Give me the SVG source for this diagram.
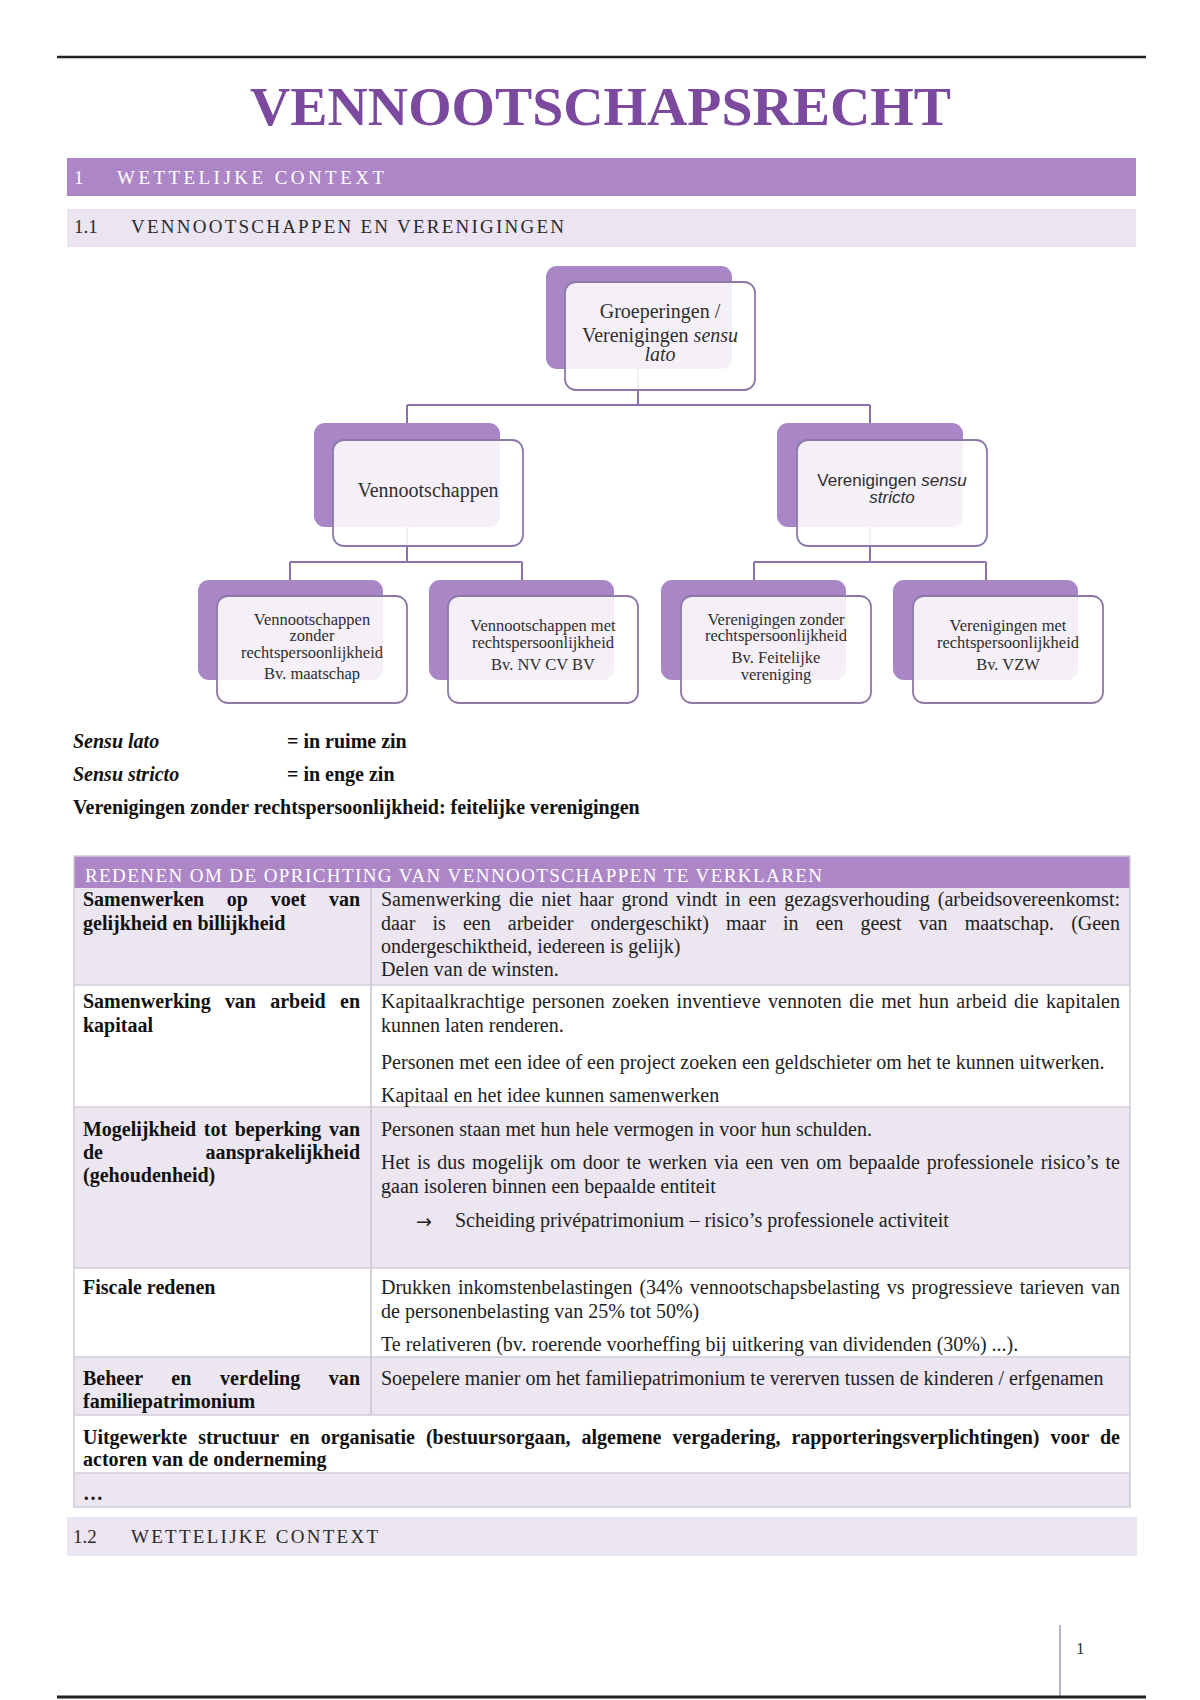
<svg xmlns="http://www.w3.org/2000/svg" width="1200" height="1700" viewBox="0 0 1200 1700">
<style>
.body{font-family:"Liberation Serif","Times New Roman",serif;font-size:20px;fill:#222}
.bold{font-weight:bold;fill:#111}
.back{fill:#A986C5}
.front{fill:#ffffff;fill-opacity:0.88;stroke:#8C79A8;stroke-width:1.8}
.nt{font-family:"Liberation Serif","Times New Roman",serif;font-size:20px;fill:#2e2e2e;text-anchor:middle}
.n3{font-size:16.5px}
.ns{font-family:"Liberation Sans",Arial,sans-serif;font-size:17px;fill:#2e2e2e;text-anchor:middle}
.conn{fill:none;stroke:#8C72AA;stroke-width:2}
.h1t{font-family:"Liberation Serif","Times New Roman",serif;font-size:19px;fill:#ffffff}
.h2t{font-family:"Liberation Serif","Times New Roman",serif;font-size:19px;fill:#2a2a2a}
.sep{stroke:#D3CDD9;stroke-width:1.5}
.lav{fill:#ECE6F1}
</style>
<rect x="0" y="0" width="1200" height="1700" fill="#ffffff"/>

<g id="page-header">
<line x1="57" y1="57" x2="1146" y2="57" stroke="#222" stroke-width="2.5"/>
<text x="250" y="125" font-family="Liberation Serif, Times New Roman, serif" font-size="55" font-weight="bold" fill="#7B4A9F" textLength="701" lengthAdjust="spacingAndGlyphs">VENNOOTSCHAPSRECHT</text>
</g>

<g id="heading-1">
<rect x="67" y="158" width="1069" height="38" fill="#AC86C6"/>
<text class="h1t" x="74" y="184">1</text>
<text class="h1t" x="117" y="184" textLength="267" lengthAdjust="spacing">WETTELIJKE CONTEXT</text>
</g>

<g id="heading-1-1">
<rect x="67" y="209" width="1069" height="38" fill="#EAE5F0"/>
<text class="h2t" x="74" y="233">1.1</text>
<text class="h2t" x="131" y="233" textLength="433" lengthAdjust="spacing">VENNOOTSCHAPPEN EN VERENIGINGEN</text>
</g>

<g id="connectors">
<path class="conn" d="M638 368 V405 M407 405 H870 M407 405 V423 M870 405 V423"/>
<path class="conn" d="M407 527 V562 M290 562 H522 M290 562 V580 M522 562 V580"/>
<path class="conn" d="M870 527 V562 M754 562 H986 M754 562 V580 M986 562 V580"/>
</g>

<g id="node-groeperingen">
<rect class="back" x="546" y="266" width="186" height="103" rx="11"/>
<rect class="front" x="565" y="282" width="190" height="108" rx="11"/>
<text class="nt" x="660" y="318">Groeperingen /</text>
<text class="nt" x="660" y="342">Verenigingen <tspan font-style="italic">sensu</tspan></text>
<text class="nt" x="660" y="361" font-style="italic">lato</text>
</g>

<g id="node-vennootschappen">
<rect class="back" x="314" y="423" width="186" height="104" rx="11"/>
<rect class="front" x="333" y="440" width="190" height="106" rx="11"/>
<text class="nt" x="428" y="497">Vennootschappen</text>
</g>

<g id="node-verenigingen-stricto">
<rect class="back" x="777" y="423" width="186" height="104" rx="11"/>
<rect class="front" x="797" y="440" width="190" height="106" rx="11"/>
<text class="ns" x="892" y="486">Verenigingen <tspan font-style="italic">sensu</tspan></text>
<text class="ns" x="892" y="503" font-style="italic">stricto</text>
</g>

<g id="node-vzonder">
<rect class="back" x="198" y="580" width="185" height="100" rx="11"/>
<rect class="front" x="217" y="596" width="190" height="107" rx="11"/>
<text class="nt n3" x="312" y="625">Vennootschappen</text>
<text class="nt n3" x="312" y="641">zonder</text>
<text class="nt n3" x="312" y="658">rechtspersoonlijkheid</text>
<text class="nt n3" x="312" y="679">Bv. maatschap</text>
</g>

<g id="node-vmet">
<rect class="back" x="429" y="580" width="185" height="100" rx="11"/>
<rect class="front" x="448" y="596" width="190" height="107" rx="11"/>
<text class="nt n3" x="543" y="631">Vennootschappen met</text>
<text class="nt n3" x="543" y="648">rechtspersoonlijkheid</text>
<text class="nt n3" x="543" y="670">Bv. NV CV BV</text>
</g>

<g id="node-verzonder">
<rect class="back" x="661" y="580" width="185" height="100" rx="11"/>
<rect class="front" x="681" y="596" width="190" height="107" rx="11"/>
<text class="nt n3" x="776" y="625">Verenigingen zonder</text>
<text class="nt n3" x="776" y="641">rechtspersoonlijkheid</text>
<text class="nt n3" x="776" y="663">Bv. Feitelijke</text>
<text class="nt n3" x="776" y="680">vereniging</text>
</g>

<g id="node-vermet">
<rect class="back" x="893" y="580" width="185" height="100" rx="11"/>
<rect class="front" x="913" y="596" width="190" height="107" rx="11"/>
<text class="nt n3" x="1008" y="631">Verenigingen met</text>
<text class="nt n3" x="1008" y="648">rechtspersoonlijkheid</text>
<text class="nt n3" x="1008" y="670">Bv. VZW</text>
</g>

<g id="notes" class="body">
<text class="body bold" x="73" y="748" font-style="italic">Sensu lato</text>
<text class="body bold" x="287" y="748">= in ruime zin</text>
<text class="body bold" x="73" y="781" font-style="italic">Sensu stricto</text>
<text class="body bold" x="287" y="781">= in enge zin</text>
<text class="body bold" x="73" y="814">Verenigingen zonder rechtspersoonlijkheid: feitelijke verenigingen</text>
</g>

<g id="table">
<rect x="74" y="856" width="1056" height="32" fill="#AC86C6"/>
<text x="85" y="882" font-family="Liberation Serif, Times New Roman, serif" font-size="19" fill="#ffffff" textLength="737" lengthAdjust="spacing">REDENEN OM DE OPRICHTING VAN VENNOOTSCHAPPEN TE VERKLAREN</text>
<rect class="lav" x="74" y="888" width="1056" height="97"/>
<rect x="74" y="985" width="1056" height="122" fill="#ffffff"/>
<rect class="lav" x="74" y="1107" width="1056" height="161"/>
<rect x="74" y="1268" width="1056" height="89" fill="#ffffff"/>
<rect class="lav" x="74" y="1357" width="1056" height="58"/>
<rect x="74" y="1415" width="1056" height="58" fill="#ffffff"/>
<rect class="lav" x="74" y="1473" width="1056" height="34"/>
<line class="sep" x1="74" y1="985" x2="1130" y2="985"/>
<line class="sep" x1="74" y1="1107" x2="1130" y2="1107"/>
<line class="sep" x1="74" y1="1268" x2="1130" y2="1268"/>
<line class="sep" x1="74" y1="1357" x2="1130" y2="1357"/>
<line class="sep" x1="74" y1="1415" x2="1130" y2="1415"/>
<line class="sep" x1="74" y1="1473" x2="1130" y2="1473"/>
<line x1="371" y1="888" x2="371" y2="1415" stroke="#C9C3D0" stroke-width="1.5"/>
<rect x="74" y="856" width="1056" height="651" fill="none" stroke="#CFCAD5" stroke-width="1.5"/>

<text class="body bold" x="83" y="906" word-spacing="17.7" textLength="277" lengthAdjust="spacing">Samenwerken op voet van</text>
<text class="body bold" x="83" y="930">gelijkheid en billijkheid</text>
<text class="body" x="381" y="906" word-spacing="2.9" textLength="739" lengthAdjust="spacing">Samenwerking die niet haar grond vindt in een gezagsverhouding (arbeidsovereenkomst:</text>
<text class="body" x="381" y="930" word-spacing="12.1" textLength="739" lengthAdjust="spacing">daar is een arbeider ondergeschikt) maar in een geest van maatschap. (Geen</text>
<text class="body" x="381" y="953">ondergeschiktheid, iedereen is gelijk)</text>
<text class="body" x="381" y="976">Delen van de winsten.</text>

<text class="body bold" x="83" y="1008" word-spacing="9.3" textLength="277" lengthAdjust="spacing">Samenwerking van arbeid en</text>
<text class="body bold" x="83" y="1032">kapitaal</text>
<text class="body" x="381" y="1008" word-spacing="2.2" textLength="739" lengthAdjust="spacing">Kapitaalkrachtige personen zoeken inventieve vennoten die met hun arbeid die kapitalen</text>
<text class="body" x="381" y="1032">kunnen laten renderen.</text>
<text class="body" x="381" y="1069">Personen met een idee of een project zoeken een geldschieter om het te kunnen uitwerken.</text>
<text class="body" x="381" y="1102">Kapitaal en het idee kunnen samenwerken</text>

<text class="body bold" x="83" y="1136" word-spacing="2.7" textLength="277" lengthAdjust="spacing">Mogelijkheid tot beperking van</text>
<text class="body bold" x="83" y="1159">de</text>
<text class="body bold" x="360" y="1159" text-anchor="end">aansprakelijkheid</text>
<text class="body bold" x="83" y="1182">(gehoudenheid)</text>
<text class="body" x="381" y="1136">Personen staan met hun hele vermogen in voor hun schulden.</text>
<text class="body" x="381" y="1169" word-spacing="2" textLength="739" lengthAdjust="spacing">Het is dus mogelijk om door te werken via een ven om bepaalde professionele risico’s te</text>
<text class="body" x="381" y="1193">gaan isoleren binnen een bepaalde entiteit</text>
<text x="416" y="1228" font-family="DejaVu Sans, sans-serif" font-size="19" fill="#222">→</text>
<text class="body" x="455" y="1227">Scheiding privépatrimonium – risico’s professionele activiteit</text>

<text class="body bold" x="83" y="1294">Fiscale redenen</text>
<text class="body" x="381" y="1294" word-spacing="2" textLength="739" lengthAdjust="spacing">Drukken inkomstenbelastingen (34% vennootschapsbelasting vs progressieve tarieven van</text>
<text class="body" x="381" y="1318">de personenbelasting van 25% tot 50%)</text>
<text class="body" x="381" y="1351">Te relativeren (bv. roerende voorheffing bij uitkering van dividenden (30%) ...).</text>

<text class="body bold" x="83" y="1385" word-spacing="23.7" textLength="277" lengthAdjust="spacing">Beheer en verdeling van</text>
<text class="body bold" x="83" y="1408">familiepatrimonium</text>
<text class="body" x="381" y="1385">Soepelere manier om het familiepatrimonium te vererven tussen de kinderen / erfgenamen</text>

<text class="body bold" x="83" y="1444" word-spacing="6.1" textLength="1037" lengthAdjust="spacing">Uitgewerkte structuur en organisatie (bestuursorgaan, algemene vergadering, rapporteringsverplichtingen) voor de</text>
<text class="body bold" x="83" y="1466">actoren van de onderneming</text>

<text class="body bold" x="83" y="1500">…</text>
</g>

<g id="heading-1-2">
<rect x="67" y="1517" width="1070" height="39" fill="#EAE5F0"/>
<text class="h2t" x="73" y="1543">1.2</text>
<text class="h2t" x="131" y="1543" textLength="247" lengthAdjust="spacing">WETTELIJKE CONTEXT</text>
</g>

<g id="page-footer">
<line x1="1060" y1="1625" x2="1060" y2="1697" stroke="#A593BE" stroke-width="1.5"/>
<text x="1076" y="1654" font-family="Liberation Serif, Times New Roman, serif" font-size="17" fill="#333">1</text>
<line x1="57" y1="1697" x2="1146" y2="1697" stroke="#222" stroke-width="3"/>
</g>
</svg>
